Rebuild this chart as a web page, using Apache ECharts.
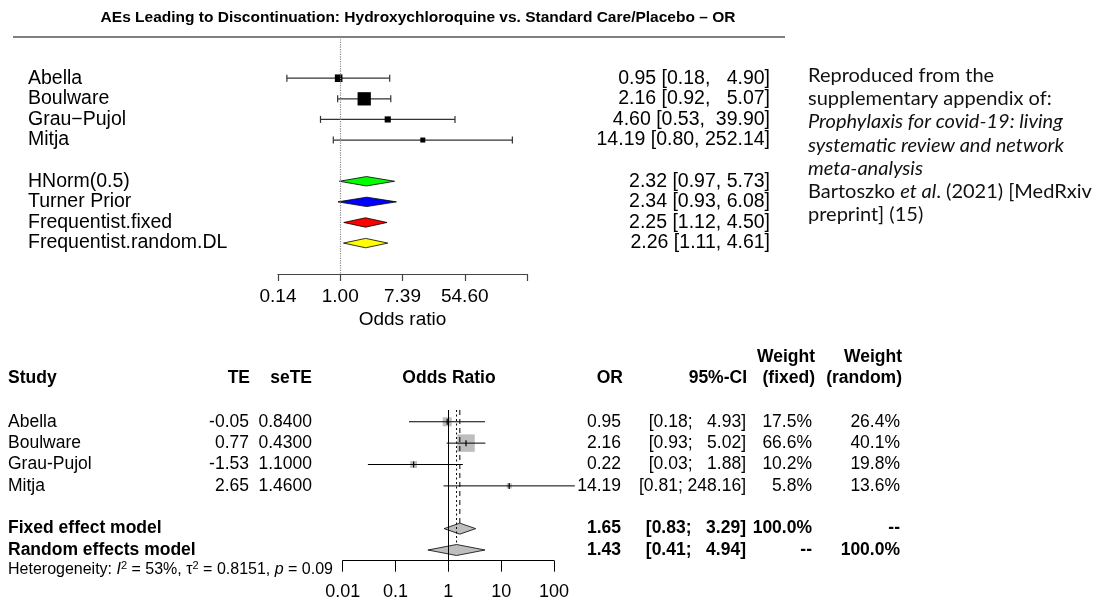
<!DOCTYPE html>
<html><head><meta charset="utf-8">
<script src="https://cdn.jsdelivr.net/npm/echarts@6/dist/echarts.min.js"></script>
<style>html,body{margin:0;padding:0;background:#fff}#c{width:1096px;height:602px}</style>
</head><body><div id="c"></div>
<script>
// ================= DATA =================
const titleText = 'AEs Leading to Discontinuation: Hydroxychloroquine vs. Standard Care/Placebo \u2013 OR';

// top panel (network meta-analysis style)
const topStudies = ['Abella', 'Boulware', 'Grau\u2212Pujol', 'Mitja'];
const topStudyOR = [0.95, 2.16, 4.60, 14.19];
const topStudyLo = [0.18, 0.92, 0.53, 0.80];
const topStudyHi = [4.90, 5.07, 39.90, 252.14];
const topModels = ['HNorm(0.5)', 'Turner Prior', 'Frequentist.fixed', 'Frequentist.random.DL'];
const topModelOR = [2.32, 2.34, 2.25, 2.26];
const topModelLo = [0.97, 0.93, 1.12, 1.11];
const topModelHi = [5.73, 6.08, 4.50, 4.61];
const topTickLabels = ['0.14', '1.00', '7.39', '54.60', ''];
const topAxisName = 'Odds ratio';

// bottom panel (meta package forest)
const botHeaders = ['Study', 'TE', 'seTE', 'Odds Ratio', 'OR', '95%-CI', 'Weight', '(fixed)', 'Weight', '(random)'];
const botStudies = ['Abella', 'Boulware', 'Grau-Pujol', 'Mitja'];
const botTE = [-0.05, 0.77, -1.53, 2.65];
const botSeTE = [0.84, 0.43, 1.10, 1.46];
const botOR = [0.95, 2.16, 0.22, 14.19];
const botLo = [0.18, 0.93, 0.03, 0.81];
const botHi = [4.93, 5.02, 1.88, 248.16];
const botWFixed = [17.5, 66.6, 10.2, 5.8];
const botWRandom = [26.4, 40.1, 19.8, 13.6];
const modelNames = ['Fixed effect model', 'Random effects model'];
const modelOR = [1.65, 1.43];
const modelLo = [0.83, 0.41];
const modelHi = [3.29, 4.94];
const modelWFixed = ['100.0%', '--'];
const modelWRandom = ['--', '100.0%'];
const botTickLabels = ['0.01', '0.1', '1', '10', '100'];
const hetI2 = '53%';
const hetTau2 = '0.8151';
const hetP = '0.09';

const noteLines = [
  'Reproduced from the',
  'supplementary appendix of:',
  '{i|Prophylaxis for covid-19: living}',
  '{i|systematic review and network}',
  '{i|meta-analysis}',
  'Bartoszko {i|et al}. (2021) [MedRxiv',
  'preprint] (15)'
];

// ================= BUILD =================
const FONT = '"Liberation Sans", Arial, Helvetica, sans-serif';
const NOTE_FONT = 'Lato, "Open Sans", sans-serif';
const ln = Math.log, lg = Math.log10;

function fmtTopCI(o, l, h, list) {
  const w = Math.max(...list.map(v => v.toFixed(2).length));
  return o.toFixed(2) + ' [' + l.toFixed(2) + ', ' + h.toFixed(2).padStart(w, ' ') + ']';
}
const allBotHi = botHi.concat(modelHi);
const botHiW = Math.max(...allBotHi.map(v => v.toFixed(2).length));
function fmtBotCI(l, h) {
  return '[' + l.toFixed(2) + '; ' + h.toFixed(2).padStart(botHiW, ' ') + ']';
}

// top study data: [row, lnOR, lnLo, lnHi, se]
const topStudyData = topStudyOR.map((v, i) => [i, ln(v), ln(topStudyLo[i]), ln(topStudyHi[i]),
  (ln(topStudyHi[i]) - ln(topStudyLo[i])) / 3.92]);
const topModelData = topModelOR.map((v, i) => [i + 5, ln(v), ln(topModelLo[i]), ln(topModelHi[i])]);
const topModelFill = ['#00ff00', '#0000ff', '#ff0000', '#ffff00'];

const botStudyData = botOR.map((v, i) => [i, lg(v), lg(botLo[i]), lg(botHi[i]), botWFixed[i]]);
const botModelData = modelOR.map((v, i) => [i + 5, lg(v), lg(modelLo[i]), lg(modelHi[i])]);

const TF = 19.5;
const TXT = (x, y, text, align, size, weight) => ({
  type: 'text',
  style: { x: x, y: y, text: text, textAlign: align || 'left', textVerticalAlign: 'middle',
    font: (weight || 'normal') + ' ' + (size || TF) + 'px ' + FONT, fill: '#000' }
});

function topStudyItem(params, api) {
  const r = api.value(0);
  const c = api.coord([api.value(1), r]);
  const l = api.coord([api.value(2), r]);
  const h = api.coord([api.value(3), r]);
  const s = 1.5 + 5.13 / api.value(4);
  const y = c[1];
  const k = params.dataIndex;
  const ls = { stroke: '#333', lineWidth: 1.2 };
  return { type: 'group', children: [
    { type: 'line', shape: { x1: l[0], y1: y, x2: h[0], y2: y }, style: ls },
    { type: 'line', shape: { x1: l[0], y1: y - 3.5, x2: l[0], y2: y + 3.5 }, style: ls },
    { type: 'line', shape: { x1: h[0], y1: y - 3.5, x2: h[0], y2: y + 3.5 }, style: ls },
    { type: 'rect', shape: { x: c[0] - s / 2, y: y - s / 2, width: s, height: s }, style: { fill: '#000' } },
    TXT(28, y, topStudies[k], 'left', TF),
    TXT(770, y, fmtTopCI(topStudyOR[k], topStudyLo[k], topStudyHi[k], topStudyHi), 'right', TF)
  ]};
}
function topModelItem(params, api) {
  const r = api.value(0);
  const c = api.coord([api.value(1), r]);
  const l = api.coord([api.value(2), r]);
  const h = api.coord([api.value(3), r]);
  const y = c[1], hh = 4.7;
  const k = params.dataIndex;
  return { type: 'group', children: [
    { type: 'polygon', shape: { points: [[l[0], y], [c[0], y - hh], [h[0], y], [c[0], y + hh]] },
      style: { fill: topModelFill[k], stroke: '#000', lineWidth: 0.8 } },
    TXT(28, y, topModels[k], 'left', TF),
    TXT(770, y, fmtTopCI(topModelOR[k], topModelLo[k], topModelHi[k], topModelHi), 'right', TF)
  ]};
}

const BF = 17.5;
function botStudyItem(params, api) {
  const r = api.value(0);
  const c = api.coord([api.value(1), r]);
  const l = api.coord([api.value(2), r]);
  const h = api.coord([api.value(3), r]);
  const s = 2.144 * Math.sqrt(api.value(4));
  const y = c[1];
  const k = params.dataIndex;
  return { type: 'group', children: [
    { type: 'rect', shape: { x: c[0] - s / 2, y: y - s / 2, width: s, height: s }, style: { fill: '#bebebe' } },
    { type: 'line', shape: { x1: l[0], y1: y, x2: h[0], y2: y }, style: { stroke: '#000', lineWidth: 1 } },
    { type: 'line', shape: { x1: c[0], y1: y - 3, x2: c[0], y2: y + 3 }, style: { stroke: '#000', lineWidth: 1.2 } },
    TXT(8, y, botStudies[k], 'left', BF),
    TXT(249, y, botTE[k].toFixed(2), 'right', BF),
    TXT(312, y, botSeTE[k].toFixed(4), 'right', BF),
    TXT(621, y, botOR[k].toFixed(2), 'right', BF),
    TXT(746, y, fmtBotCI(botLo[k], botHi[k]), 'right', BF),
    TXT(812, y, botWFixed[k].toFixed(1) + '%', 'right', BF),
    TXT(900, y, botWRandom[k].toFixed(1) + '%', 'right', BF)
  ]};
}
function botModelItem(params, api) {
  const r = api.value(0);
  const c = api.coord([api.value(1), r]);
  const l = api.coord([api.value(2), r]);
  const h = api.coord([api.value(3), r]);
  const top = api.coord([api.value(1), -0.55]);
  const y = c[1], hh = 5.5;
  const k = params.dataIndex;
  return { type: 'group', children: [
    { type: 'line', shape: { x1: c[0], y1: top[1], x2: c[0], y2: y - hh },
      style: { stroke: '#000', lineWidth: 1, lineDash: k === 0 ? [5, 4] : [2, 2.5] } },
    { type: 'polygon', shape: { points: [[l[0], y], [c[0], y - hh], [h[0], y], [c[0], y + hh]] },
      style: { fill: '#bebebe', stroke: '#000', lineWidth: 0.8 } },
    TXT(8, y, modelNames[k], 'left', BF, 'bold'),
    TXT(621, y, modelOR[k].toFixed(2), 'right', BF, 'bold'),
    TXT(746, y, fmtBotCI(modelLo[k], modelHi[k]), 'right', BF, 'bold'),
    TXT(812, y, modelWFixed[k], 'right', BF, 'bold'),
    TXT(900, y, modelWRandom[k], 'right', BF, 'bold')
  ]};
}

const HF = 17.5;
const headerGraphics = [
  [8, 378, 0, 'left'], [250, 378, 1, 'right'], [312, 378, 2, 'right'], [449, 378, 3, 'center'],
  [623, 378, 4, 'right'], [747, 378, 5, 'right'], [815, 357, 6, 'right'], [815, 378, 7, 'right'],
  [902, 357, 8, 'right'], [902, 378, 9, 'right']
].map(a => ({
  type: 'text', silent: true,
  style: { x: a[0], y: a[1], text: botHeaders[a[2]], textAlign: a[3], textVerticalAlign: 'middle',
    font: 'bold ' + HF + 'px ' + FONT, fill: '#000' }
}));

const option = {
  animation: false,
  backgroundColor: '#fff',
  grid: [
    { left: 278, top: 37, width: 249, height: 237 },
    { left: 342.7, top: 410, width: 211.3, height: 150.7 }
  ],
  xAxis: [
    { gridIndex: 0, type: 'value', min: -2, max: 6, interval: 2, position: 'bottom',
      axisLine: { show: true, onZero: false, lineStyle: { color: '#444', width: 1.2 } },
      axisTick: { show: true, length: 7, lineStyle: { color: '#444', width: 1.2 } },
      axisLabel: { margin: 13, fontSize: 19, fontFamily: FONT, color: '#000',
        formatter: v => topTickLabels[Math.round((v + 2) / 2)] },
      splitLine: { show: false },
      name: topAxisName, nameLocation: 'middle', nameGap: 36,
      nameTextStyle: { fontSize: 19, fontFamily: FONT, color: '#000' } },
    { gridIndex: 1, type: 'value', min: -2, max: 2, interval: 1, position: 'bottom',
      axisLine: { show: true, onZero: false, lineStyle: { color: '#000', width: 1 } },
      axisTick: { show: true, length: 11, lineStyle: { color: '#000', width: 1 } },
      axisLabel: { margin: 22, fontSize: 18, fontFamily: FONT, color: '#000',
        formatter: v => botTickLabels[Math.round(v + 2)] },
      splitLine: { show: false } }
  ],
  yAxis: [
    { gridIndex: 0, type: 'value', min: -2, max: 9.5, inverse: true, show: false },
    { gridIndex: 1, type: 'value', min: -0.55, max: 6.5, inverse: true, show: false }
  ],
  series: [
    { type: 'custom', xAxisIndex: 0, yAxisIndex: 0, data: topStudyData, renderItem: topStudyItem,
      encode: { x: [1, 2, 3], y: 0 }, silent: true, z: 3,
      markLine: { silent: true, symbol: 'none', label: { show: false },
        lineStyle: { type: 'dotted', color: '#8a8a8a', width: 1.2 }, data: [{ xAxis: 0 }] } },
    { type: 'custom', xAxisIndex: 0, yAxisIndex: 0, data: topModelData, renderItem: topModelItem,
      encode: { x: [1, 2, 3], y: 0 }, silent: true, z: 4 },
    { type: 'custom', xAxisIndex: 1, yAxisIndex: 1, data: botStudyData, renderItem: botStudyItem,
      encode: { x: [1, 2, 3], y: 0 }, silent: true, z: 3,
      markLine: { silent: true, symbol: 'none', label: { show: false },
        lineStyle: { type: 'solid', color: '#000', width: 1 }, data: [{ xAxis: 0 }] } },
    { type: 'custom', xAxisIndex: 1, yAxisIndex: 1, data: botModelData, renderItem: botModelItem,
      encode: { x: [1, 2, 3], y: 0 }, silent: true, z: 4 }
  ],
  graphic: [
    { type: 'text', silent: true,
      style: { x: 418, y: 18, text: titleText, textAlign: 'center', textVerticalAlign: 'middle',
        font: 'bold 15.5px ' + FONT, fill: '#000' } },
    { type: 'line', silent: true, shape: { x1: 13, y1: 37, x2: 785, y2: 37 },
      style: { stroke: '#555', lineWidth: 1.6 } },
    { type: 'text', silent: true,
      style: { x: 808, y: 64, text: noteLines.join('\n'), textAlign: 'left', textVerticalAlign: 'top',
        font: '20px ' + NOTE_FONT, fill: '#111', lineHeight: 23.2,
        rich: { i: { fontStyle: 'italic', fontSize: 20, fontFamily: NOTE_FONT,
          lineHeight: 23.2, fill: '#111' } } } },
    { type: 'text', silent: true, z: 10,
      style: { x: 8, y: 570,
        text: 'Heterogeneity: {it|I}{sup|2} = ' + hetI2 + ', \u03c4{sup|2} = ' + hetTau2 + ', {it|p} = ' + hetP,
        textAlign: 'left', textVerticalAlign: 'middle',
        font: '16px ' + FONT, fill: '#000', lineHeight: 20,
        rich: {
          it: { fontStyle: 'italic', fontSize: 16, fontFamily: FONT, lineHeight: 20, fill: '#000' },
          sup: { fontSize: 11, fontFamily: FONT, lineHeight: 20, verticalAlign: 'top', fill: '#000' }
        } } }
  ].concat(headerGraphics)
};

const chart = echarts.init(document.getElementById('c'), null, { renderer: 'canvas' });
chart.setOption(option);
</script>
</body></html>
